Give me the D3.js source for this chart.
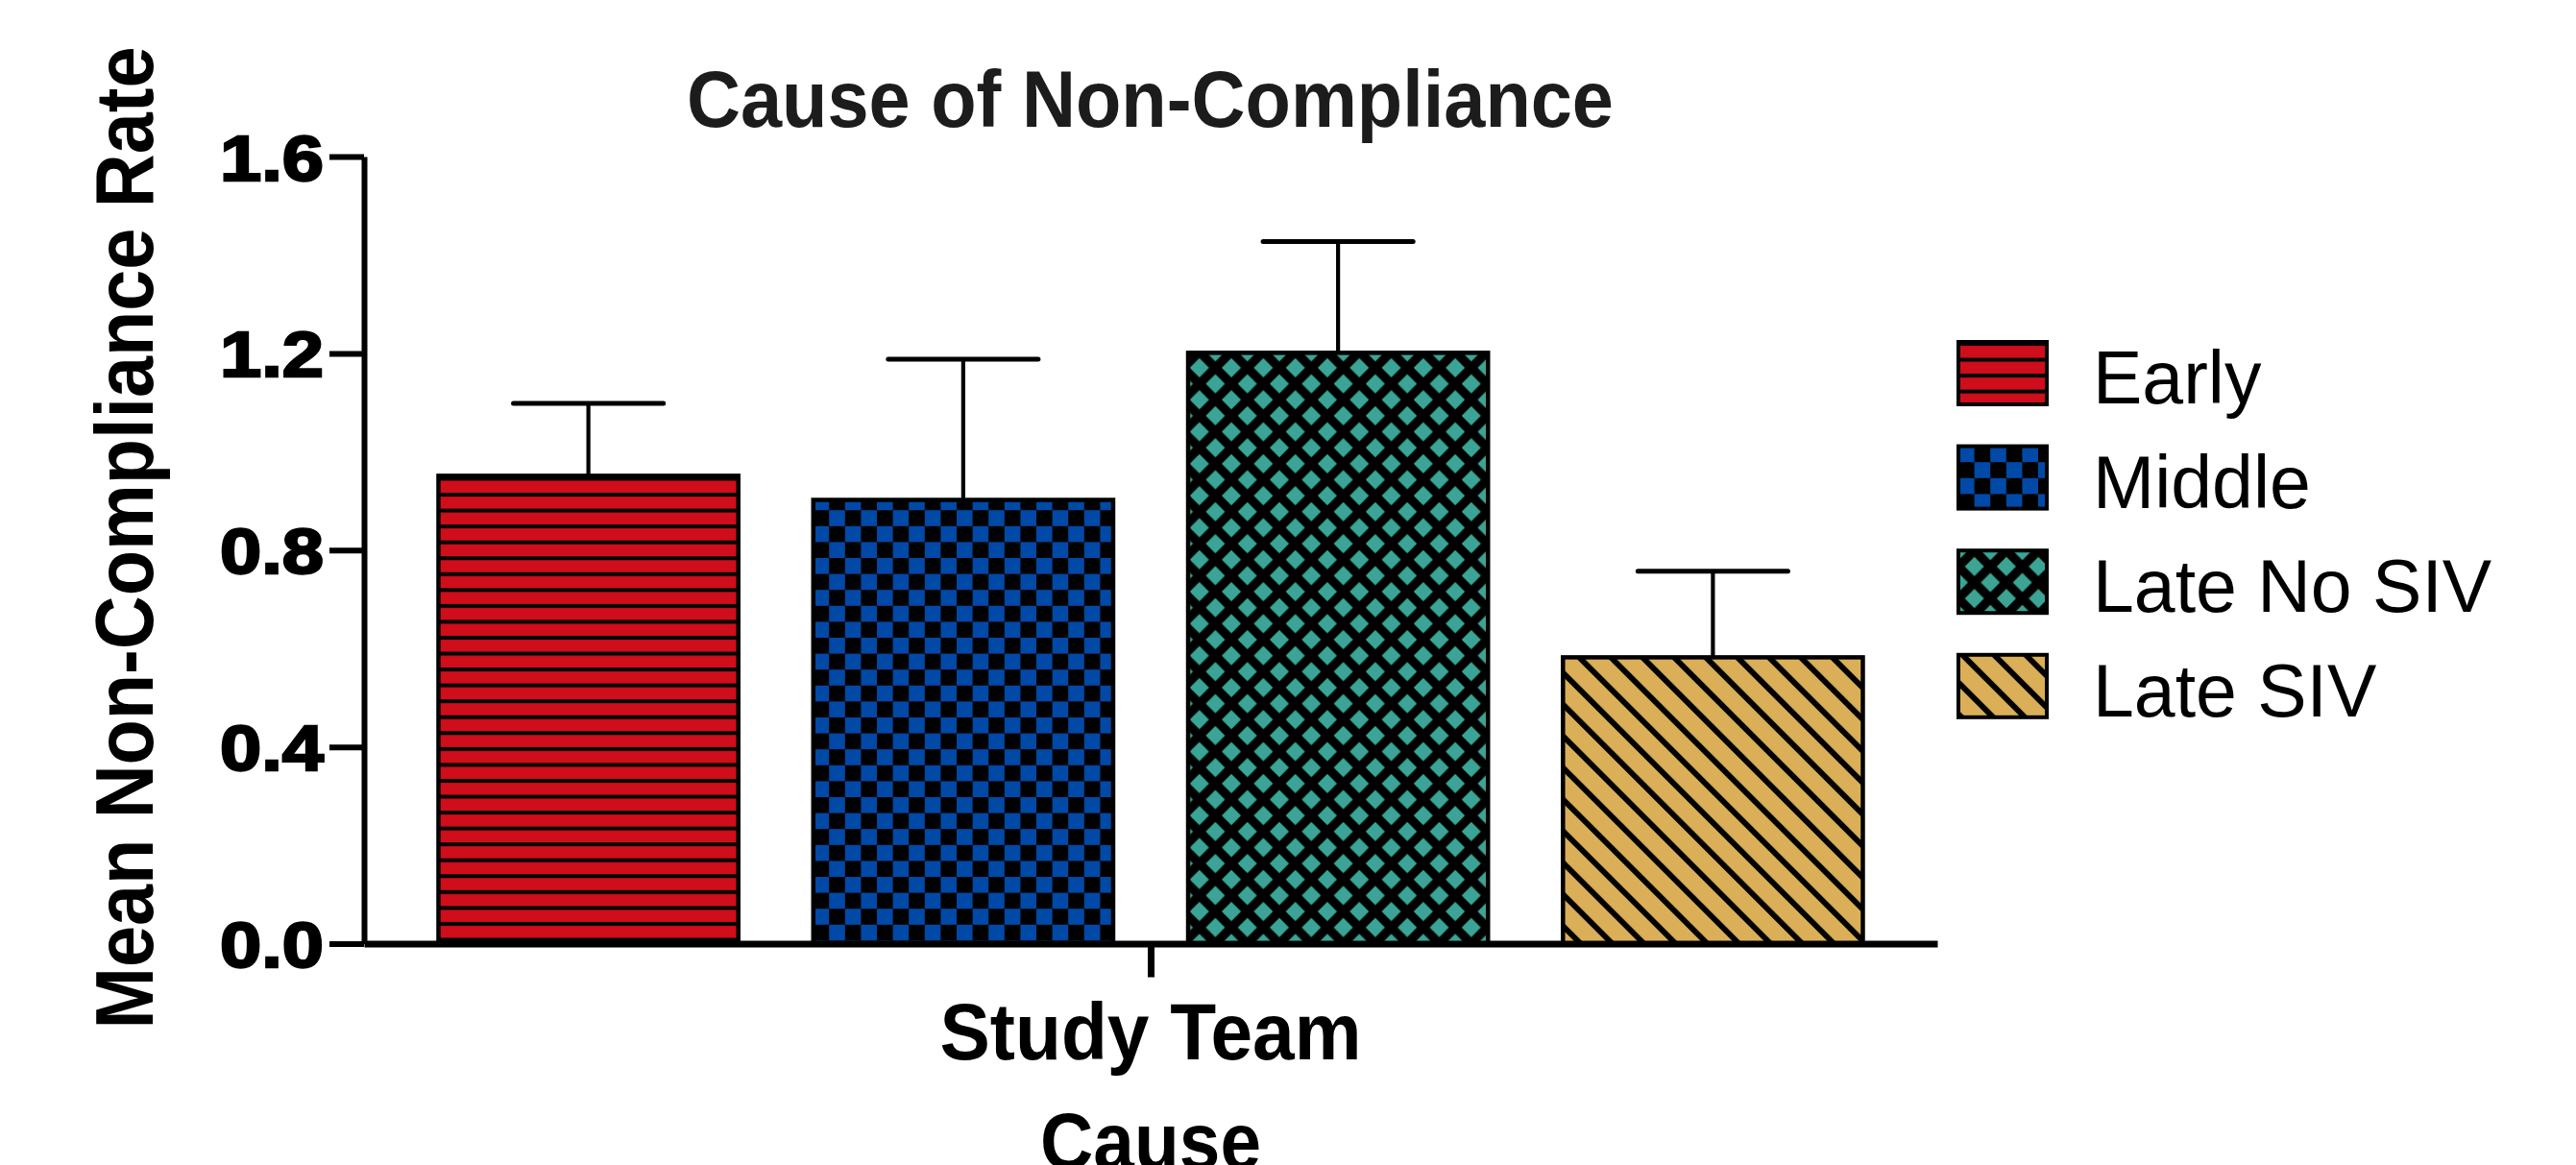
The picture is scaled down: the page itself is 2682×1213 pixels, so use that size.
<!DOCTYPE html>
<html>
<head>
<meta charset="utf-8">
<script src="https://cdn.jsdelivr.net/npm/d3@7"></script>
<style>
  html, body { margin: 0; padding: 0; background: #ffffff; }
  svg { display: block; }
</style>
</head>
<body>
<script>
// Grouped bar chart: mean non-compliance rate by cause, with upper error bars
const categories = ["Study Team"];
const series = ["Early", "Middle", "Late No SIV", "Late SIV"];
const means = [0.951, 0.902, 1.201, 0.582];
const errors = [0.147, 0.286, 0.226, 0.175];
const yTicks = [0, 0.4, 0.8, 1.2, 1.6];
const colors = ["#d00d1b", "#0049a6", "#3ba595", "#dbaf57"];

const W = 2682, H = 1213;
const FONT = "'Liberation Sans', Arial, Helvetica, sans-serif";

const svg = d3.select("body").append("svg")
  .attr("width", W).attr("height", H)
  .attr("viewBox", `0 0 ${W} ${H}`);

svg.append("rect").attr("width", W).attr("height", H).attr("fill", "#fff");

// ---- fill patterns, one per series ----
const defs = svg.append("defs");

// Early: red with horizontal black rules
const pEarly = defs.append("pattern").attr("id", "pat-0")
  .attr("patternUnits", "userSpaceOnUse").attr("width", 20).attr("height", 16.55);
pEarly.append("rect").attr("width", 20).attr("height", 16.55).attr("fill", colors[0]);
pEarly.append("rect").attr("y", 0).attr("width", 20).attr("height", 4).attr("fill", "#000");

// Middle: blue / black checkerboard
const cs = 16.6;
const pMid = defs.append("pattern").attr("id", "pat-1")
  .attr("patternUnits", "userSpaceOnUse").attr("width", cs * 2).attr("height", cs * 2);
pMid.append("rect").attr("width", cs * 2).attr("height", cs * 2).attr("fill", "#000");
pMid.append("rect").attr("x", 0).attr("y", 0).attr("width", cs).attr("height", cs).attr("fill", colors[1]);
pMid.append("rect").attr("x", cs).attr("y", cs).attr("width", cs).attr("height", cs).attr("fill", colors[1]);

// Late No SIV: teal diamonds inside a black diagonal lattice
const dt = 33.3, dh = 10;
const pLns = defs.append("pattern").attr("id", "pat-2")
  .attr("patternUnits", "userSpaceOnUse").attr("width", dt).attr("height", dt);
pLns.append("rect").attr("width", dt).attr("height", dt).attr("fill", "#000");
[[dt / 2, dt / 2], [0, 0], [dt, 0], [0, dt], [dt, dt]].forEach(([cx, cy]) => {
  pLns.append("polygon")
    .attr("points", [[cx - dh, cy], [cx, cy - dh], [cx + dh, cy], [cx, cy + dh]].map(p => p.join(",")).join(" "))
    .attr("fill", colors[2]);
});

// Late SIV: gold with black "\" diagonal stripes
const sp = 23.3;
const pLs = defs.append("pattern").attr("id", "pat-3")
  .attr("patternUnits", "userSpaceOnUse").attr("width", sp).attr("height", sp)
  .attr("patternTransform", "rotate(-45)");
pLs.append("rect").attr("width", sp).attr("height", sp).attr("fill", colors[3]);
pLs.append("rect").attr("x", 0).attr("width", 5.9).attr("height", sp).attr("fill", "#000");

// ---- scales ----
const axisLeftX = 379, axisRightX = 2017;
const y = d3.scaleLinear().domain([0, 1.6]).range([982.5, 163]);
const x0 = d3.scalePoint().domain(categories).range([axisLeftX, axisRightX]).padding(0.5);
const x1 = d3.scaleBand().domain(series).range([-741.5, 741.5]).paddingInner(0.2);

// ---- bars ----
const rows = series.map((s, i) => ({ cat: categories[0], s, i, mean: means[i], err: errors[i] }));

const g = svg.append("g");
g.selectAll("rect.bar").data(rows).join("rect")
  .attr("class", "bar")
  .attr("x", d => x0(d.cat) + x1(d.s))
  .attr("y", d => y(d.mean))
  .attr("width", x1.bandwidth())
  .attr("height", d => y(0) - y(d.mean))
  .attr("fill", d => `url(#pat-${d.i})`)
  .attr("stroke", "#000")
  .attr("stroke-width", 4.5);

// upper error bars
const eb = g.selectAll("g.err").data(rows).join("g").attr("class", "err");
eb.append("line")
  .attr("x1", d => x0(d.cat) + x1(d.s) + x1.bandwidth() / 2)
  .attr("x2", d => x0(d.cat) + x1(d.s) + x1.bandwidth() / 2)
  .attr("y1", d => y(d.mean))
  .attr("y2", d => y(d.mean + d.err))
  .attr("stroke", "#000").attr("stroke-width", 4.2);
eb.append("line")
  .attr("x1", d => x0(d.cat) + x1(d.s) + x1.bandwidth() / 4)
  .attr("x2", d => x0(d.cat) + x1(d.s) + x1.bandwidth() * 3 / 4)
  .attr("y1", d => y(d.mean + d.err))
  .attr("y2", d => y(d.mean + d.err))
  .attr("stroke", "#000").attr("stroke-width", 5).attr("stroke-linecap", "round");

// ---- y axis ----
const yAxis = d3.axisLeft(y).tickValues(yTicks).tickFormat(d3.format(".1f"))
  .tickSize(36).tickSizeOuter(0).tickPadding(6);
const gy = svg.append("g").attr("transform", `translate(${axisLeftX},0)`).call(yAxis);
gy.select(".domain").attr("stroke", "#000").attr("stroke-width", 6);
gy.selectAll(".tick line").attr("stroke", "#000").attr("stroke-width", 6);
gy.selectAll(".tick text")
  .attr("fill", "#000").attr("stroke", "#000").attr("stroke-width", 2.4)
  .attr("font-family", FONT).attr("font-weight", "bold").attr("font-size", 67)
  .attr("dy", null).attr("y", 24)
  .attr("textLength", 108).attr("lengthAdjust", "spacingAndGlyphs");

// ---- x axis ----
const xAxis = d3.axisBottom(x0).tickSize(35).tickSizeOuter(0).tickFormat("");
const gx = svg.append("g").attr("transform", `translate(0,${y(0)})`).call(xAxis);
gx.select(".domain").attr("stroke", "#000").attr("stroke-width", 7);
gx.selectAll(".tick line").attr("stroke", "#000").attr("stroke-width", 7);

svg.append("text")
  .attr("x", x0(categories[0])).attr("y", 1103)
  .attr("text-anchor", "middle")
  .attr("font-family", FONT).attr("font-weight", "bold").attr("font-size", 83)
  .attr("textLength", 439).attr("lengthAdjust", "spacingAndGlyphs")
  .attr("fill", "#000")
  .text(categories[0]);

svg.append("text")
  .attr("x", x0(categories[0])).attr("y", 1217)
  .attr("text-anchor", "middle")
  .attr("font-family", FONT).attr("font-weight", "bold").attr("font-size", 83)
  .attr("textLength", 230).attr("lengthAdjust", "spacingAndGlyphs")
  .attr("fill", "#000")
  .text("Cause");

// ---- titles ----
svg.append("text")
  .attr("x", 1197.5).attr("y", 132)
  .attr("text-anchor", "middle")
  .attr("font-family", FONT).attr("font-weight", "bold").attr("font-size", 84)
  .attr("textLength", 965).attr("lengthAdjust", "spacingAndGlyphs")
  .attr("fill", "#1c1c1c")
  .text("Cause of Non-Compliance");

svg.append("text")
  .attr("transform", "translate(159,560) rotate(-90)")
  .attr("text-anchor", "middle")
  .attr("font-family", FONT).attr("font-weight", "bold").attr("font-size", 85)
  .attr("textLength", 1023).attr("lengthAdjust", "spacingAndGlyphs")
  .attr("fill", "#000")
  .text("Mean Non-Compliance Rate");

// ---- legend ----
const legend = svg.append("g").attr("transform", "translate(2039,356)");
const li = legend.selectAll("g").data(series).join("g")
  .attr("transform", (d, i) => `translate(0,${i * 108.6})`);
li.append("rect")
  .attr("width", 92).attr("height", 65)
  .attr("fill", (d, i) => `url(#pat-${i})`)
  .attr("stroke", "#000").attr("stroke-width", 4);
li.append("text")
  .attr("x", 140).attr("y", 64)
  .attr("font-family", FONT).attr("font-size", 77)
  .attr("fill", "#000")
  .text(d => d);
</script>
</body>
</html>
